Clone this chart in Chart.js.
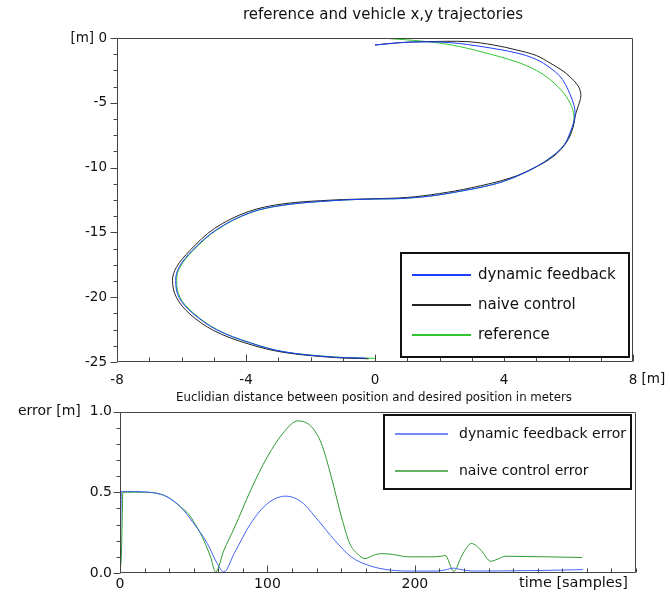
<!DOCTYPE html>
<html><head><meta charset="utf-8">
<script src="https://cdn.jsdelivr.net/npm/chart.js@4.4.1/dist/chart.umd.min.js"></script>
<style>
html,body{margin:0;padding:0;background:#fff;overflow:hidden;}
#w1{position:absolute;left:0;top:0;width:670px;height:392px;}
#w2{position:absolute;left:0;top:388px;width:670px;height:210px;}
</style></head><body>
<div id="w1"><canvas id="c1"></canvas></div>
<div id="w2"><canvas id="c2"></canvas></div>
<script>
// ---------- top chart data: x,y trajectories [m] ----------
const dynX = [0,0.7,1.4,2.34,3.4,4.4,5.0,5.43,5.75,5.95,6.12,6.2,6.17,6.05,5.85,5.4,4.8,4.1,3.5,2.7,1.7,0.7,0,-1.3,-2.85,-3.9,-4.92,-5.67,-6.08,-6.18,-6.08,-5.67,-4.92,-3.9,-2.85,-1.3,-0.3];
const dynY = [-0.54,-0.38,-0.3,-0.36,-0.7,-1.16,-1.65,-2.3,-3.0,-3.8,-4.8,-5.6,-6.4,-7.3,-8.3,-9.3,-10.2,-10.96,-11.4,-11.8,-12.2,-12.4,-12.42,-12.55,-12.9,-13.5,-14.8,-16.4,-17.7,-18.7,-20,-21.2,-22.5,-23.5,-24.2,-24.62,-24.7];
const naiveX = [0,0.8,1.6,2.85,3.7,4.4,5.0,5.43,5.8,6.05,6.3,6.38,6.36,6.23,6.14,5.95,5.55,4.95,4.2,3.0,2.0,1.0,0,-1.3,-2.85,-3.93,-4.98,-5.74,-6.16,-6.28,-6.16,-5.74,-4.98,-3.93,-2.85,-1.3,-0.2];
const naiveY = [-0.54,-0.35,-0.28,-0.28,-0.55,-0.93,-1.35,-1.93,-2.5,-3.0,-3.7,-4.3,-4.8,-5.8,-6.9,-8.0,-9.1,-10.0,-10.8,-11.55,-12.0,-12.3,-12.4,-12.5,-12.8,-13.4,-14.7,-16.4,-17.7,-18.7,-20,-21.3,-22.6,-23.6,-24.25,-24.65,-24.75];
const refX = [0.45,1.5,2.4,3.35,4.4,5.0,5.45,5.85,6.1,6.17,6.1,5.85,5.4,4.8,4.1,3.5,2.7,1.7,0.7,0,-1.3,-2.85,-3.88,-4.9,-5.64,-6.05,-6.15,-6.05,-5.64,-4.9,-3.88,-2.85,-1.3,0];
const refY = [-0.05,-0.25,-0.55,-1.1,-1.85,-2.5,-3.25,-4.25,-5.3,-6.2,-7.1,-8.3,-9.3,-10.2,-10.96,-11.4,-11.8,-12.2,-12.4,-12.42,-12.55,-12.9,-13.5,-14.8,-16.4,-17.7,-18.7,-20,-21.2,-22.5,-23.5,-24.2,-24.6,-24.72];
const topXMinorTicks = [-8,-7,-6,-5,-4,-3,-2,-1,0,1,2,3,4,5,6,7,8];
const topXLabels = [-8,-4,0,4,8];
const topYMinorTicks = [0,-1.25,-2.5,-3.75,-5,-6.25,-7.5,-8.75,-10,-11.25,-12.5,-13.75,-15,-16.25,-17.5,-18.75,-20,-21.25,-22.5,-23.75,-25];
const topYLabels = [0,-5,-10,-15,-20,-25];
const topLegend = ['dynamic feedback','naive control','reference'];

// ---------- bottom chart data: error [m] vs time [samples] ----------
const dynErrT = [0,1,5,10,15,22.8,31.9,41,50,59.2,66,70.5,77.4,88.7,100,112.6,122.9,134.3,145.6,157,168.4,184.3,200,215,221,226,232,240,260,280,300,314];
const dynErr  = [0,0.505,0.505,0.505,0.503,0.497,0.472,0.41,0.307,0.183,0.058,0.006,0.12,0.307,0.43,0.476,0.441,0.327,0.203,0.099,0.048,0.017,0.012,0.012,0.02,0.03,0.02,0.012,0.013,0.015,0.018,0.021];
const naiveErrT = [0,1,2,5,10,15,22.8,31.9,41,47,50,54.6,61.4,64.8,70.5,77.4,88.7,100,111.5,120.6,129.7,136.5,143.3,150.2,155.8,161,166,172,177.5,185,195.7,210,218.4,220.5,226.4,232,238.4,245,251.4,256,261.6,275,290,313.5];
const naiveErr  = [0,0.13,0.5,0.5,0.5,0.5,0.497,0.472,0.41,0.36,0.317,0.245,0.1,0.006,0.141,0.276,0.514,0.72,0.876,0.942,0.907,0.804,0.596,0.348,0.183,0.12,0.089,0.11,0.12,0.115,0.1,0.1,0.104,0.11,0.01,0.11,0.183,0.14,0.073,0.085,0.104,0.102,0.1,0.096];
const botXLabels = [0,100,200];
const botYLabels = [0,0.5,1];
const botYMinorTicks = [0,0.1,0.2,0.3,0.4,0.5,0.6,0.7,0.8,0.9,1.0];
const botLegend = ['dynamic feedback error','naive control error'];

const FONT = "'DejaVu Sans', sans-serif";
const AX = '#444';
const TXT = '#111';

function pts(xs, ys){ return xs.map((v,i)=>({x:v, y:ys[i]})); }
function near(a, list){ return list.some(v=>Math.abs(v-a)<1e-6); }

const deco = {
  id:'deco',
  afterDraw(chart, args, o){
    const ctx = chart.ctx, a = chart.chartArea, sx = chart.scales.x, sy = chart.scales.y;
    ctx.save();
    ctx.strokeStyle = AX; ctx.lineWidth = 1;
    const L = Math.round(a.left)+0.5, R = Math.round(a.right)-0.5, T = Math.round(a.top)+0.5, B = Math.round(a.bottom)-0.5;
    ctx.beginPath(); ctx.rect(L, T, R-L, B-T); ctx.stroke();
    ctx.beginPath();
    o.xTicks.forEach(v=>{
      const px = Math.round(sx.getPixelForValue(v))+0.5;
      const len = near(v, o.xMajor) ? 7 : 4;
      ctx.moveTo(px, B); ctx.lineTo(px, B-len);
    });
    o.yTicks.forEach(v=>{
      const py = Math.round(sy.getPixelForValue(v))+0.5;
      const len = near(v, o.yMajor) ? 7 : 4;
      ctx.moveTo(L, py); ctx.lineTo(L-len, py);
    });
    ctx.stroke();
    ctx.fillStyle = TXT;
    ctx.font = o.titleFont; ctx.textAlign='center'; ctx.textBaseline='middle';
    ctx.fillText(o.title, o.titleX, o.titleY);
    ctx.font = o.tickFont;
    if (o.extra) { ctx.textAlign = o.extra.align; ctx.fillText(o.extra.text, o.extra.x(sx, ctx), o.extra.y); }
    const lg = o.legend;
    ctx.fillStyle = '#fff';
    ctx.fillRect(lg.x, lg.y, lg.w, lg.h);
    ctx.strokeStyle = '#111'; ctx.lineWidth = 2;
    ctx.strokeRect(lg.x, lg.y, lg.w, lg.h);
    ctx.font = lg.font; ctx.textAlign='left'; ctx.textBaseline='middle';
    lg.items.forEach((it,i)=>{
      const yy = lg.rows[i];
      ctx.strokeStyle = it.color; ctx.lineWidth = lg.lw;
      ctx.beginPath(); ctx.moveTo(lg.lx0, yy); ctx.lineTo(lg.lx1, yy); ctx.stroke();
      ctx.fillStyle = TXT; ctx.fillText(it.text, lg.tx, yy);
    });
    ctx.restore();
  }
};

const C_DYN = '#1f3dff', C_NAIVE = '#222222', C_REF = '#2ec82e';

new Chart(document.getElementById('c1'), {
  type:'scatter',
  data:{datasets:[
    {label:topLegend[0], data:pts(dynX,dynY), borderColor:C_DYN},
    {label:topLegend[1], data:pts(naiveX,naiveY), borderColor:C_NAIVE},
    {label:topLegend[2], data:pts(refX,refY), borderColor:C_REF}
  ]},
  options:{
    responsive:true, maintainAspectRatio:false, animation:false,
    layout:{padding:{top:38,right:37,left:0,bottom:0}},
    elements:{point:{radius:0}, line:{borderWidth:1, tension:0.35, fill:false}},
    datasets:{scatter:{showLine:true}},
    plugins:{legend:{display:false}, tooltip:{enabled:false},
      deco:{
        xTicks:topXMinorTicks, xMajor:topXLabels, yTicks:topYMinorTicks, yMajor:topYLabels,
        title:'reference and vehicle x,y trajectories', titleFont:"15px "+FONT, titleX:383, titleY:15,
        tickFont:"13.5px "+FONT,
        extra:{text:'[m]', align:'left', y:379, x:(sx,ctx)=>sx.getPixelForValue(8)+ctx.measureText('8').width/2+ctx.measureText(' ').width},
        legend:{x:401,y:253,w:228,h:104,font:"15px "+FONT,lw:2,lx0:412,lx1:471,tx:478,rows:[275,305,335],
          items:[{text:topLegend[0],color:C_DYN},{text:topLegend[1],color:C_NAIVE},{text:topLegend[2],color:C_REF}]}
      }},
    scales:{
      x:{type:'linear', min:-8, max:8,
        afterFit:s=>{s.height=30;},
        grid:{display:false, drawTicks:false}, border:{display:false},
        ticks:{stepSize:4, autoSkip:false, maxRotation:0, padding:10, color:TXT, font:{family:FONT,size:13.5},
          callback:v=>topXLabels.includes(v)?String(v):''}},
      y:{type:'linear', min:-25, max:0,
        afterFit:s=>{s.width=117;},
        grid:{display:false, drawTicks:false}, border:{display:false},
        ticks:{stepSize:5, autoSkip:false, padding:10, color:TXT, font:{family:FONT,size:13.5},
          callback:v=>v===0?'[m] 0':(topYLabels.includes(v)?String(v):'')}}
    }
  },
  plugins:[deco]
});

const C_DYN2 = '#4463f5', C_NAIVE2 = '#2f9a2f';
new Chart(document.getElementById('c2'), {
  type:'scatter',
  data:{datasets:[
    {label:botLegend[0], data:pts(dynErrT,dynErr), borderColor:C_DYN2},
    {label:botLegend[1], data:pts(naiveErrT,naiveErr), borderColor:C_NAIVE2}
  ]},
  options:{
    responsive:true, maintainAspectRatio:false, animation:false,
    layout:{padding:{top:23.5,right:34,left:0,bottom:0}},
    elements:{point:{radius:0}, line:{borderWidth:1, cubicInterpolationMode:'monotone', fill:false}},
    datasets:{scatter:{showLine:true}},
    plugins:{legend:{display:false}, tooltip:{enabled:false},
      deco:{
        xTicks:Array.from({length:22},(_,k)=>k*100/6), xMajor:botXLabels, yTicks:botYMinorTicks, yMajor:botYLabels,
        title:'Euclidian distance between position and desired position in meters', titleFont:"11.8px "+FONT, titleX:374, titleY:10,
        tickFont:"14.5px "+FONT,
        extra:{text:'time [samples]', align:'right', y:195, x:()=>628},
        legend:{x:384,y:27,w:247,h:74,font:"14px "+FONT,lw:1.5,lx0:395,lx1:448,tx:459,rows:[46,83],
          items:[{text:botLegend[0],color:C_DYN2},{text:botLegend[1],color:C_NAIVE2}]}
      }},
    scales:{
      x:{type:'linear', min:0, max:350,
        afterFit:s=>{s.height=25;},
        grid:{display:false, drawTicks:false}, border:{display:false},
        ticks:{stepSize:100, autoSkip:false, maxRotation:0, padding:3, color:TXT, font:{family:FONT,size:14},
          callback:v=>botXLabels.includes(v)?String(v):''}},
      y:{type:'linear', min:0, max:1,
        afterFit:s=>{s.width=120;},
        grid:{display:false, drawTicks:false}, border:{display:false},
        ticks:{stepSize:0.5, autoSkip:false, padding:8, color:TXT, font:{family:FONT,size:14},
          callback:v=>v===1?'error [m]  1.0':(botYLabels.includes(v)?v.toFixed(1):'')}}
    }
  },
  plugins:[deco]
});
</script>
</body></html>
